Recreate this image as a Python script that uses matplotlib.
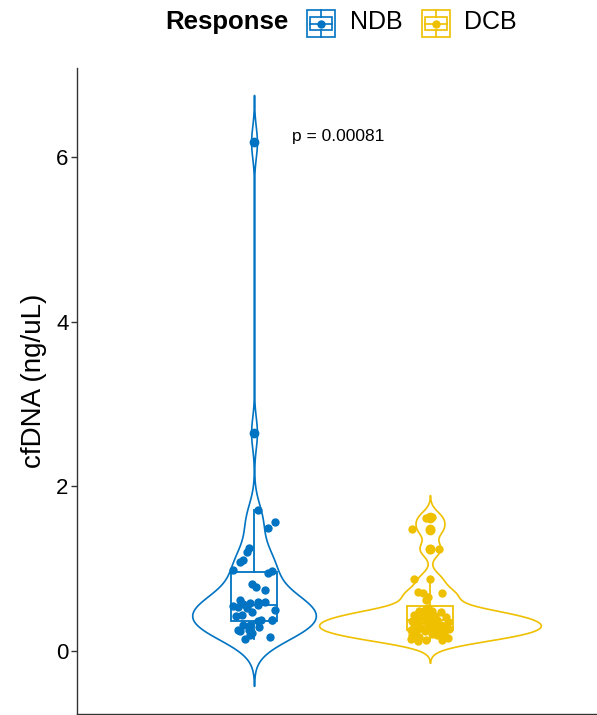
import numpy as np
import matplotlib
matplotlib.use('Agg')
import matplotlib.pyplot as plt
from matplotlib.patches import Rectangle
from matplotlib.lines import Line2D

plt.rcParams['font.family'] = ['Liberation Sans', 'DejaVu Sans']

groups = ['NDB', 'DCB']
colors = ['#0073C2', '#EFC000']
legend_title = 'Response'
y_label = 'cfDNA (ng/uL)'
p_label = 'p = 0.00081'
y_ticks = [0, 2, 4, 6]

# values
ndb = [0.15, 0.17, 0.20, 0.22, 0.24, 0.26, 0.26, 0.29, 0.31, 0.32,
       0.36, 0.38, 0.38, 0.38, 0.42, 0.44, 0.47, 0.50, 0.52, 0.53,
       0.55, 0.56, 0.57, 0.58, 0.60, 0.60, 0.62, 0.74, 0.78, 0.81,
       0.95, 0.97, 0.98, 1.08, 1.10, 1.20, 1.25, 1.49, 1.57, 1.71,
       2.65, 6.18]
# horizontal jitter of each dot (x units)
ndb_jitter = [-0.05, 0.09, -0.02, -0.01, -0.08, -0.09, -0.03, 0.03, -0.06, -0.02,
              0.02, 0.10, 0.04, 0.10, -0.10, -0.07, -0.01, 0.12, -0.04, -0.09,
              -0.12, 0.02, -0.06, -0.02, 0.02, 0.06, -0.08, 0.06, 0.01, -0.01,
              0.08, 0.10, -0.12, -0.08, -0.06, -0.04, -0.03, 0.08, 0.12, 0.02,
              0.0, 0.0]

dcb = [0.12, 0.13, 0.13, 0.15, 0.16, 0.17, 0.19, 0.20, 0.21, 0.22,
       0.23, 0.24, 0.25, 0.26, 0.27, 0.28, 0.28, 0.29, 0.30, 0.31,
       0.32, 0.33, 0.34, 0.35, 0.36, 0.37, 0.38, 0.39, 0.40, 0.41,
       0.42, 0.43, 0.44, 0.45, 0.47, 0.48, 0.49, 0.50, 0.52, 0.62,
       0.66, 0.70, 0.70, 0.72, 0.87, 0.88, 1.24, 1.24, 1.47, 1.48,
       1.61, 1.63]
dcb_jitter = [-0.07, -0.02, 0.07, -0.11, 0.10, -0.06, 0.04, -0.10, 0.01, 0.08,
              -0.08, -0.03, 0.05, -0.11, 0.11, -0.05, 0.02, 0.08, -0.09, -0.01,
              0.06, -0.06, 0.02, 0.10, -0.10, -0.02, 0.04, -0.07, 0.0, 0.09,
              -0.05, 0.03, -0.09, -0.01, 0.06, -0.06, 0.01, -0.03, -0.01, -0.02,
              -0.01, -0.04, 0.07, -0.07, 0.0, -0.09, 0.0, 0.05, 0.0, -0.10,
              -0.02, 0.01]

data = [ndb, dcb]
jitters = [ndb_jitter, dcb_jitter]
positions = [1, 2]


def nrd0(x):
    x = np.asarray(x)
    q75, q25 = np.percentile(x, [75, 25])
    return 0.9 * min(x.std(ddof=1), (q75 - q25) / 1.34) * len(x) ** -0.2


def kde(x, bw):
    x = np.asarray(x)
    grid = np.linspace(x.min() - 3 * bw, x.max() + 3 * bw, 512)
    d = np.exp(-0.5 * ((grid[:, None] - x[None, :]) / bw) ** 2).sum(1)
    return grid, d / (len(x) * bw * np.sqrt(2 * np.pi))


W, H = 597, 715
fig = plt.figure(figsize=(W / 100, H / 100), dpi=100)
ax = fig.add_axes([77 / W, 1 / H, 530 / W, 646 / H])
ax.set_xlim(-0.006, 3.006)
ax.set_ylim(-0.765, 7.08)

# violins, same area (ggplot default)
dens = [kde(v, nrd0(v)) for v in data]
k = 0.63 / max(d.max() for _, d in dens)
for (grid, d), pos, col in zip(dens, positions, colors):
    ax.fill_betweenx(grid, pos - d * k, pos + d * k, facecolor='white',
                     edgecolor=col, lw=1.2, zorder=1)

bp = ax.boxplot(data, positions=positions, widths=0.26, patch_artist=True,
                showcaps=False, whis=1.5, manage_ticks=False, zorder=2)
for i, col in enumerate(colors):
    bp['boxes'][i].set(facecolor='white', edgecolor=col, lw=1.3)
    bp['medians'][i].set(color=col, lw=1.3)
    for w in bp['whiskers'][2 * i:2 * i + 2]:
        w.set(color=col, lw=1.3)
    bp['fliers'][i].set(marker='o', markersize=6, markerfacecolor=col,
                        markeredgecolor=col)

for v, j, pos, col in zip(data, jitters, positions, colors):
    ax.scatter(pos + np.asarray(j), v, s=36, color=col, linewidths=0, zorder=4)

ax.text(1.216, 6.25, p_label, fontsize=12.5, ha='left', va='center')

ax.set_yticks(y_ticks)
ax.set_xticks([])
ax.tick_params(axis='y', labelsize=16, length=4, width=1, pad=2, color='#333333')
for s in ['top', 'right']:
    ax.spines[s].set_visible(False)
for s in ['left', 'bottom']:
    ax.spines[s].set_color('#333333')
    ax.spines[s].set_linewidth(1)
ax.set_ylabel(y_label, fontsize=20)
ax.yaxis.set_label_coords(-0.057, 0.515)

# legend on top
def fx(x):
    return x / W


def fy(y):
    return 1 - y / H


fig.text(fx(165), fy(22), legend_title, fontsize=18.5, weight='bold', va='center')
for kx, tx, col, name in [(307, 350, colors[0], groups[0]), (422, 464, colors[1], groups[1])]:
    fig.add_artist(Rectangle((fx(kx), fy(37)), 28 / W, 27 / H, fill=False,
                             edgecolor=col, lw=1.2, transform=fig.transFigure))
    fig.add_artist(Rectangle((fx(kx + 3), fy(30)), 22 / W, 13 / H, fill=False,
                             edgecolor=col, lw=1.2, transform=fig.transFigure))
    fig.add_artist(Line2D([fx(kx + 3), fx(kx + 25)], [fy(23.5), fy(23.5)], color=col,
                          lw=1.2, transform=fig.transFigure))
    fig.add_artist(Line2D([fx(kx + 14), fx(kx + 14)], [fy(10), fy(17)], color=col,
                          lw=1.2, transform=fig.transFigure))
    fig.add_artist(Line2D([fx(kx + 14), fx(kx + 14)], [fy(30), fy(37)], color=col,
                          lw=1.2, transform=fig.transFigure))
    fig.add_artist(Line2D([fx(kx + 14)], [fy(23.5)], marker='o', markersize=5,
                          color=col, transform=fig.transFigure))
    fig.text(fx(tx), fy(22), name, fontsize=18, va='center')

fig.savefig('out.png', dpi=100)
